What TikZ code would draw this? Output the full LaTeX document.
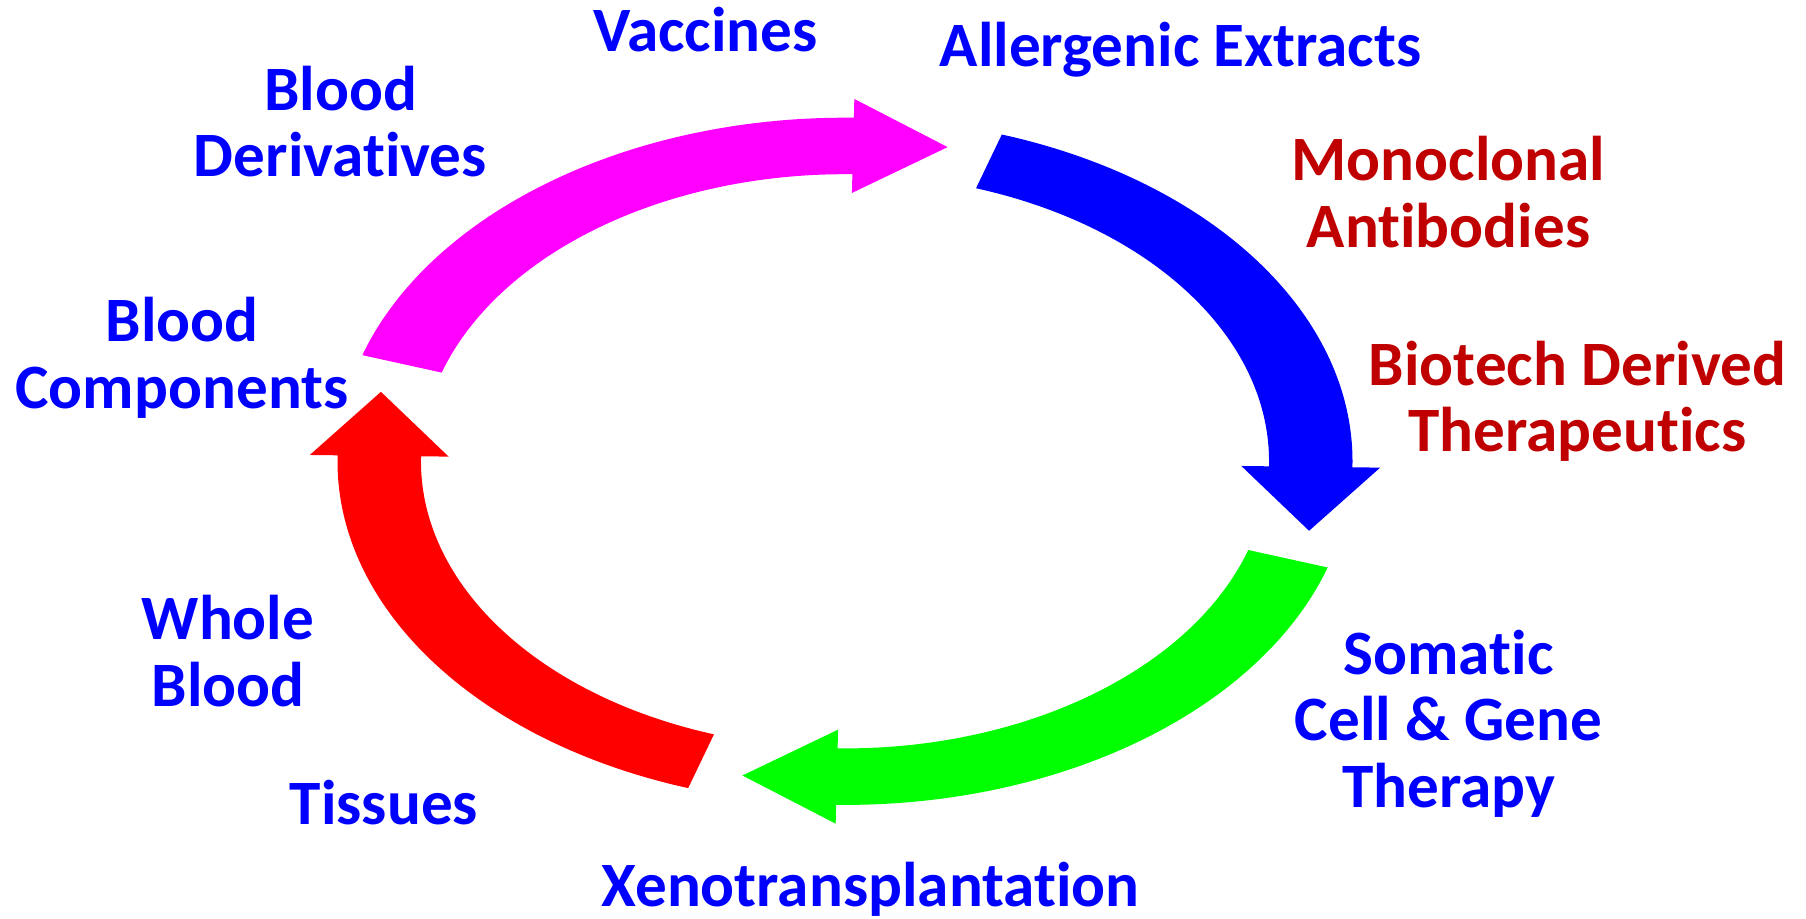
\documentclass[tikz,border=0pt]{standalone}
\usepackage{fontspec}
\setmainfont{Carlito}[Ligatures=NoCommon]
\definecolor{txtBlue}{RGB}{0,0,255}
\definecolor{txtRed}{RGB}{192,0,0}
\definecolor{arcPink}{RGB}{255,0,255}
\definecolor{arcBlue}{RGB}{0,0,255}
\definecolor{arcGreen}{RGB}{0,255,0}
\definecolor{arcRed}{RGB}{255,0,0}

\begin{document}
\begin{tikzpicture}
[x=0.5pt,y=0.5pt,
  labelDecorate/.style={font=\bfseries\fontsize{31.6}{33.25}\selectfont,
    align=center,inner sep=0pt,anchor=base}]
\useasboundingbox (0,0) rectangle (1806,918);
%% curved arrows round the cycle
\begin{scope}[shift={(845,456.7)},xscale=1.477]
\foreach \col/\ang in {arcPink/90, arcBlue/0, arcGreen/-90, arcRed/180}
{
  \fill[\col] (\ang+72:343.6)
    arc[start angle=\ang+72, end angle=\ang-1, radius=343.6]
    -- (\ang-1:362.4) -- (\ang-12.47:321.8) -- (\ang-1:268.4)
    -- (\ang-1:287.1)
    arc[start angle=\ang-1, end angle=\ang+72, radius=287.1] -- cycle;
}
\end{scope}
%% labels (y is the baseline of the last line)
\foreach \nodename/\x/\y/\col/\txt in {
  vaccines/705.6/866.3/txtBlue/{Vaccines},
  allergenic/1180.6/851.3/txtBlue/{Allergenic Extracts},
  bloodDeriv/340.5/741.3/txtBlue/{Blood\\Derivatives},
  bloodComp/182/509.7/txtBlue/{Blood\\Components},
  monoclonal/1448.5/670.7/txtRed/{Monoclonal\\Antibodies},
  biotech/1577.5/466.3/txtRed/{Biotech Derived\\Therapeutics},
  wholeBlood/228/211.7/txtBlue/{Whole\\Blood},
  tissues/384/94/txtBlue/{Tissues},
  xeno/870.5/11.5/txtBlue/{Xenotransplantation},
  somatic/1448.5/110.7/txtBlue/{Somatic\\Cell \& Gene\\Therapy}}
{
  \node (\nodename) at (\x,\y) [labelDecorate,text=\col] {\txt};
}
\end{tikzpicture}
\end{document}
